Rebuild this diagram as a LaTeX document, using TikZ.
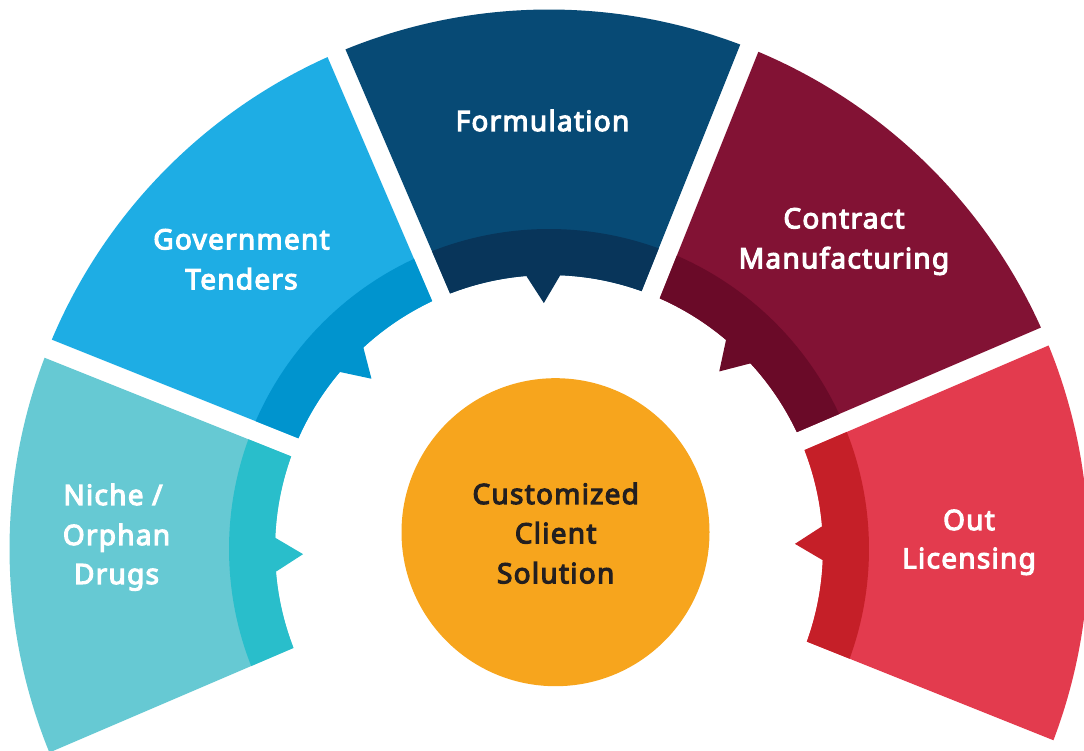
\documentclass[tikz,border=0pt]{standalone}
\usepackage{fontspec}
\setmainfont{Noto Sans}[AutoFakeBold=4, BoldFeatures={LetterSpace=4.5}]
\definecolor{nicheL}{HTML}{66C9D3}
\definecolor{nicheD}{HTML}{29BECB}
\definecolor{govL}{HTML}{1EADE4}
\definecolor{govD}{HTML}{0094CE}
\definecolor{formL}{HTML}{074A75}
\definecolor{formD}{HTML}{08355A}
\definecolor{contL}{HTML}{821234}
\definecolor{contD}{HTML}{6A0A28}
\definecolor{outL}{HTML}{E33B4E}
\definecolor{outD}{HTML}{C51F28}
\definecolor{hubC}{HTML}{F7A51D}
\definecolor{txtdark}{HTML}{231F20}
% #1 centre angle, #2 inner radius, #3 outer radius, #4 colour
\newcommand\drawseg[4]{%
  \pgfmathsetmacro\hai{22.5-asin(9.75/#2)}%
  \pgfmathsetmacro\hao{22.5-asin(9.75/#3)}%
  \fill[#4] ({#1-\hai}:#2pt) -- ({#1-\hao}:#3pt)
    arc[start angle={#1-\hao}, end angle={#1+\hao}, radius=#3pt]
    -- ({#1+\hai}:#2pt)
    arc[start angle={#1+\hai}, end angle={#1-\hai}, radius=#2pt] -- cycle;}
% #1 pointer angle, #2 colour
\newcommand\drawptr[2]{%
  \fill[#2] ({#1+3.55}:282pt) -- ({#1+3.55}:274pt) -- (#1:246pt)
    -- ({#1-3.55}:274pt) -- ({#1-3.55}:282pt) -- cycle;}
\begin{document}
\begin{tikzpicture}[x=1pt,y=1pt,
  lbl/.style={font=\bfseries\fontsize{28}{40}\selectfont, text=white, inner sep=0pt, anchor=base},
  dlbl/.style={lbl, text=txtdark}]
\useasboundingbox (0,0) rectangle (1084,750);
\clip (0,0) rectangle (1084,750);
\begin{scope}[shift={(549,201)}]
  % Out Licensing
  \drawseg{0.7}{274}{539.5}{outL}
  \drawseg{0.7}{274}{320}{outD}
  \drawptr{1.2}{outD}
  % Contract Manufacturing
  \drawseg{45.7}{274}{539.5}{contL}
  \drawseg{45.7}{274}{320}{contD}
  \drawptr{46.2}{contD}
  % Formulation
  \drawseg{90.7}{274}{539.5}{formL}
  \drawseg{90.7}{274}{320}{formD}
  \drawptr{91.2}{formD}
  % Government Tenders
  \drawseg{135.7}{274}{539.5}{govL}
  \drawseg{135.7}{274}{320}{govD}
  \drawptr{136.2}{govD}
  % Niche / Orphan Drugs
  \drawseg{180.7}{274}{539.5}{nicheL}
  \drawseg{180.7}{274}{320}{nicheD}
  \drawptr{181.2}{nicheD}
\end{scope}
\node[circle, fill=hubC, minimum size=308pt, inner sep=0pt] (hub) at (555.5,217.8) {};
\node[dlbl] (hub1) at (555.7,246) {Customized};
\node[dlbl] (hub2) at (555.7,206.7) {Client};
\node[dlbl] (hub3) at (555.7,166.7) {Solution};
\node[lbl] (form1) at (542.5,619) {Formulation};
\node[lbl] (gov1) at (241.5,500.7) {Government};
\node[lbl] (gov2) at (241.5,460.7) {Tenders};
\node[lbl] (cont1) at (844,521.7) {Contract};
\node[lbl] (cont2) at (844,481.7) {Manufacturing};
\node[lbl] (niche1) at (113,245) {Niche /};
\node[lbl] (niche2) at (116.5,205) {Orphan};
\node[lbl] (niche3) at (116.5,166) {Drugs};
\node[lbl] (out1) at (969,220) {Out};
\node[lbl] (out2) at (969,181.7) {Licensing};
\end{tikzpicture}
\end{document}
